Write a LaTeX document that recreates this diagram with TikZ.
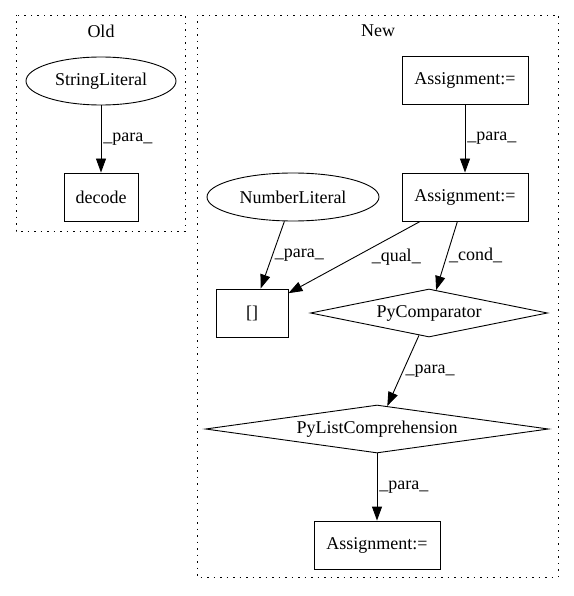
\documentclass[tikz,border=0pt]{standalone}
\usepackage{fontspec}
\setmainfont{Liberation Serif}
\usetikzlibrary{arrows.meta,shapes.geometric}
\begin{document}
\begin{tikzpicture}[x=1pt,y=-1pt,
  font=\fontsize{18}{21}\selectfont,
  every node/.style={inner sep=0pt},
  box/.style={draw,line width=0.9pt,minimum width=#1,minimum height=48pt},
  lit/.style={draw,ellipse,line width=0.9pt,minimum height=48pt},
  cmp/.style={draw,diamond,line width=0.9pt,minimum height=48pt},
  group/.style={draw,line width=0.9pt,dash pattern=on 1.5pt off 5pt},
  flow/.style={draw,line width=0.9pt,-{Triangle[length=14pt,width=10pt]}},
  lbl/.style={right=2pt}]
\useasboundingbox (0,0) rectangle (573,596);
% clusters
\draw[group] (16,15) rectangle (185,231);
\node (oldtitle) at (101,31) {Old};
\draw[group] (197,15) rectangle (558,577);
\node (newtitle) at (378,31) {New};
% old
\node[lit, minimum width=150pt] (strlit) at (101,81) {StringLiteral};
\node[box=74pt] (decode) at (101,197) {decode};
% new
\node[box=126pt] (assign1) at (465,80) {Assignment:=};
\node[box=126pt] (assign2) at (465,197) {Assignment:=};
\node[lit, minimum width=172pt] (numlit) at (293,197) {NumberLiteral};
\node[box=72pt] (index) at (252,313) {[]};
\node[cmp, aspect=5, minimum width=237pt] (pycmp) at (429,313) {PyComparator};
\node[cmp, aspect=7, minimum width=343pt] (pylist) at (377,429) {PyListComprehension};
\node[box=126pt] (assign3) at (377,545) {Assignment:=};
\path[flow] (strlit) -- node[lbl] {\_para\_} (decode);
\path[flow] (assign1) -- node[lbl] {\_para\_} (assign2);
\path[flow] (numlit) -- node[lbl] {\_para\_} (index);
\path[flow] (assign2) -- node[right=17pt] {\_qual\_} (index);
\path[flow] (assign2) -- node[lbl] {\_cond\_} (pycmp);
\path[flow] (pycmp) -- node[lbl] {\_para\_} (pylist);
\path[flow] (pylist) -- node[lbl] {\_para\_} (assign3);
\end{tikzpicture}
\end{document}
